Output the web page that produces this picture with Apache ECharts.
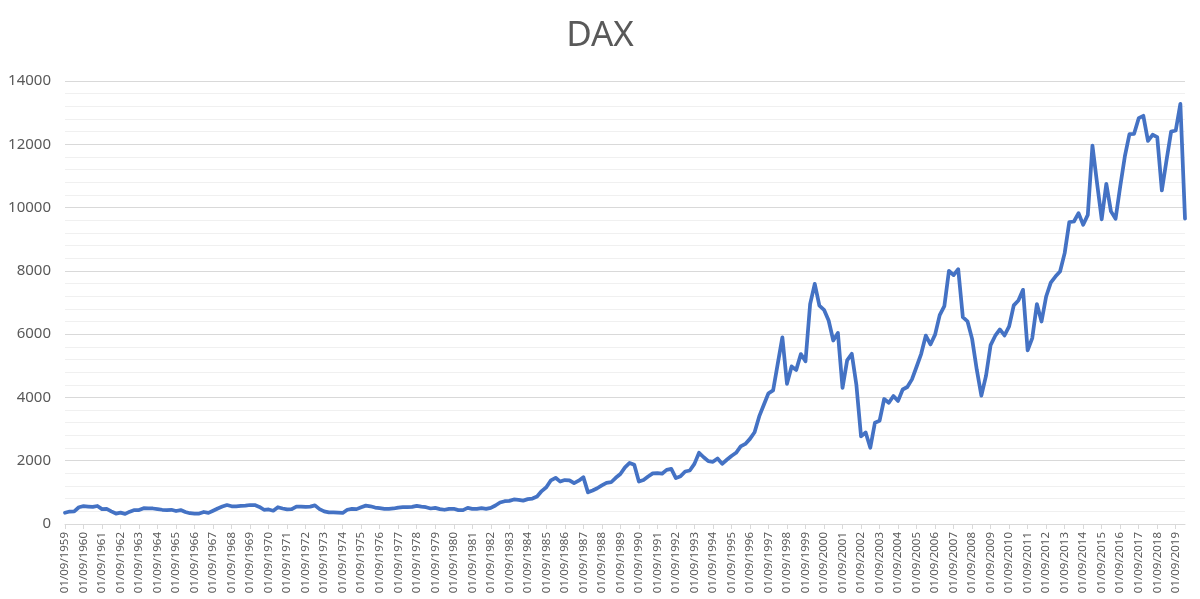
<!DOCTYPE html>
<html>
<head>
<meta charset="utf-8">
<script src="https://cdn.jsdelivr.net/npm/echarts@6/dist/echarts.min.js"></script>
<style>
html,body{margin:0;padding:0;background:#fff;}
#chart{width:1200px;height:599px;}
</style>
</head>
<body>
<div id="chart"></div>
<script>
// Quarterly dates from 01/09/1959 to 01/03/2020
const startYear = 1959;
const quarterMonths = ['09', '12', '03', '06'];
const pointCount = 243;
const categories = [];
for (let i = 0; i < pointCount; i++) {
  const q = i % 4;
  const base = startYear + Math.floor(i / 4);
  const year = q >= 2 ? base + 1 : base;
  categories.push('01/' + quarterMonths[q] + '/' + year);
}

const daxValues = [
  354, 395, 400, 530, 563, 550, 540, 570, 470, 480,
  400, 330, 360, 320, 390, 440, 440, 500, 490, 490,
  470, 450, 440, 450, 410, 440, 380, 340, 330, 330,
  380, 350, 420, 490, 550, 600, 560, 560, 570, 580,
  600, 600, 540, 450, 460, 420, 530, 490, 460, 470,
  550, 550, 540, 550, 590, 470, 400, 370, 370, 360,
  350, 450, 480, 470, 530, 580, 560, 520, 500, 480,
  480, 490, 520, 530, 530, 540, 575, 550, 530, 490,
  510, 470, 450, 480, 480, 440, 440, 510, 480, 480,
  500, 480, 510, 585, 680, 720, 730, 775, 765, 740,
  785, 805, 870, 1040, 1160, 1380, 1460, 1340, 1390, 1380,
  1290, 1370, 1480, 1000, 1060, 1130, 1220, 1300, 1320, 1460,
  1580, 1790, 1930, 1870, 1340, 1390, 1500, 1600, 1610, 1590,
  1710, 1740, 1450, 1510, 1660, 1690, 1900, 2250, 2110, 1985,
  1965, 2070, 1900, 2030, 2150, 2250, 2450, 2530, 2690, 2900,
  3400, 3770, 4130, 4220, 5060, 5900, 4430, 4980, 4870, 5370,
  5140, 6950, 7590, 6900, 6770, 6430, 5800, 6040, 4300, 5170,
  5380, 4390, 2770, 2890, 2410, 3200, 3260, 3950, 3830, 4045,
  3890, 4250, 4330, 4570, 4970, 5380, 5955, 5675, 5985, 6600,
  6885, 8000, 7865, 8055, 6535, 6405, 5850, 4885, 4055, 4680,
  5655, 5950, 6150, 5960, 6245, 6910, 7065, 7400, 5490, 5875,
  6950, 6400, 7190, 7630, 7820, 7980, 8560, 9540, 9560, 9825,
  9455, 9770, 11960, 10770, 9630, 10750, 9880, 9645, 10665, 11615,
  12320, 12330, 12825, 12900, 12110, 12300, 12225, 10540, 11490, 12400,
  12435, 13280, 9650
];

const chartTitle = 'DAX';
const yMin = 0, yMax = 14000, yInterval = 2000;

const chart = echarts.init(document.getElementById('chart'), null, {renderer: 'canvas'});
chart.setOption({
  animation: false,
  backgroundColor: '#ffffff',
  title: {
    text: chartTitle,
    left: 'center',
    top: 14,
    textStyle: {
      fontFamily: 'Noto Sans',
      fontWeight: 'normal',
      fontSize: 35,
      color: '#595959'
    }
  },
  grid: {
    left: 65,
    right: 15,
    top: 81,
    bottom: 75,
    containLabel: false
  },
  xAxis: {
    type: 'category',
    data: categories,
    boundaryGap: false,
    axisLine: {show: true, lineStyle: {color: '#d9d9d9', width: 1}},
    axisTick: {show: true, interval: 3, length: 5, lineStyle: {color: '#d9d9d9'}},
    axisLabel: {
      interval: 3,
      rotate: 90,
      margin: 8,
      fontFamily: 'Noto Sans',
      fontSize: 11.5,
      color: '#595959'
    },
    splitLine: {show: false}
  },
  yAxis: {
    type: 'value',
    min: yMin,
    max: yMax,
    interval: yInterval,
    axisLine: {show: false},
    axisTick: {show: false},
    axisLabel: {
      margin: 14,
      fontFamily: 'Noto Sans',
      fontSize: 15,
      color: '#595959',
      formatter: function (v) { return String(v); }
    },
    splitLine: {show: true, lineStyle: {color: '#d9d9d9', width: 1}},
    minorTick: {show: false, splitNumber: 5},
    minorSplitLine: {show: true, lineStyle: {color: '#f0f0f0', width: 1}}
  },
  series: [{
    type: 'line',
    data: daxValues,
    symbol: 'none',
    smooth: false,
    lineStyle: {color: '#4472c4', width: 3.75, join: 'round', cap: 'round'},
    itemStyle: {color: '#4472c4'}
  }]
});
</script>
</body>
</html>
